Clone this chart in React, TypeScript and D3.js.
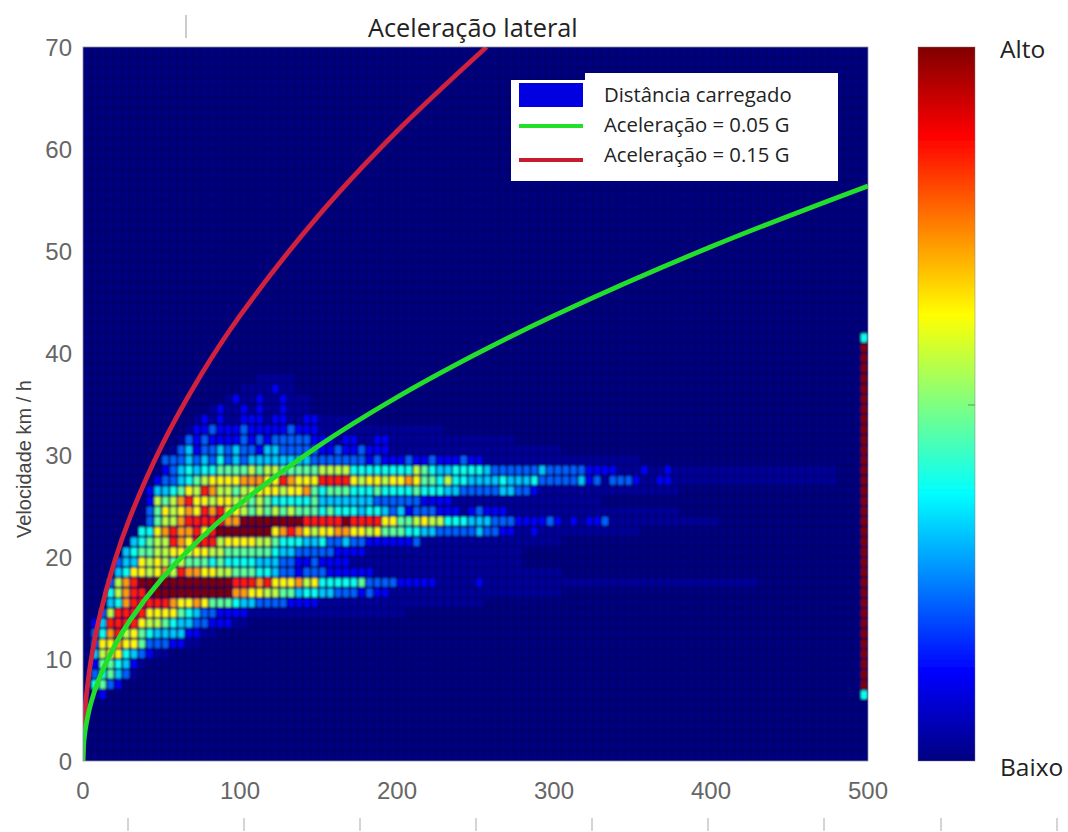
import React from "react";
import * as d3 from "d3";

// Heat-map levels: [speed row km/h, first column, levels]. Column width = 5 m of radius.
const heatRows: [number, number, string][] = [
  [6, 1, "12"],
  [7, 1, "5632"],
  [8, 1, "356431"],
  [9, 1, "2665421"],
  [10, 1, "4788543211"],
  [11, 1, "38898863332211"],
  [12, 1, "359a786544442211"],
  [13, 1, "24aaaa87765443322211"],
  [14, 2, "37aaaa8888654332222111"],
  [15, 3, "459aaaaa98898666544333322221111"],
  [16, 3, "579aabbbbbbbbbbb9988776645544333232211"],
  [17, 3, "379abbbbbbbbbbbbaaa9a8889785555563333222221111121111111"],
  [18, 4, "45887897a9988776665543323332222221111111111"],
  [19, 4, "34487876766656555544433223222211111111111111111"],
  [20, 5, "4566778878877666666544333332222111111111111111"],
  [21, 6, "45677a98aaa788887765554453343322222231111111"],
  [22, 7, "5589a99a8abbbbbbb89a98788998878666554433333433221121111111"],
  [23, 8, "36779aaaaa99bbbbbbbbaaaaabaaaa88667877555444333222232121223111"],
  [24, 8, "3687898a9a8876767676665655545543423332221232221111111"],
  [25, 8, "27679a887887767655555644444443333332222111111111"],
  [26, 8, "2445687a97767788878896566655565555655544333334433211"],
  [27, 9, "2334567888899988a9888aaaa87887889866575544445444533333423133321122111"],
  [28, 10, "23454556666767766666777755555555765445555433333343333322221112112111111"],
  [29, 10, "33343435343444444443333333232223223222322" + "1111111111"],
  [30, 11, "1342334343324433333223223222" + "11111111111111111111"],
  [31, 12, "1323222232323333322212211221" + "111111111111111"],
  [32, 13, "12232223222223222" + "1111111111"],
  [33, 14, "12121122212211221111"],
  [34, 16, "1211212112111"],
  [35, 18, "12112112111"],
  [36, 20, "1111211"],
  [37, 22, "11111"],
];

// Last column of the faint blue background haze, for speed rows 14, 15, ...
const faintStartRow = 14;
const faintEnd = [40, 50, 60, 85, 60, 55, 55, 60, 70, 80, 75, 65, 75, 95, 95, 70, 60, 50, 45, 35];

// Column at radius 500: dark red band with a cyan cell at each end
const edgeColumn = 99;
const edgeBandRows = [7, 40];
const edgeCapRows = [6, 41];
const edgeBandLevel = "b";
const edgeCapLevel = "5";

const levelChars = "0123456789ab";
const levelValues = [0, 0.025, 0.12, 0.22, 0.32, 0.39, 0.47, 0.56, 0.63, 0.72, 0.85, 1];

const jetStops = [0, 0.125, 0.375, 0.625, 0.875, 1];
const jetColors = ["#000080", "#0000ff", "#00ffff", "#ffff00", "#ff0000", "#800000"];

// Curves: radius (m) vs speed (km/h)
const greenRadius = [0, 0.5, 1, 2, 5, 10, 20, 30, 50, 75, 100, 150, 200, 250, 300, 400, 500];
const greenSpeed = [0, 1.78, 2.52, 3.56, 5.64, 7.97, 11.27, 13.81, 17.83, 21.83, 25.21, 30.88, 35.66, 39.86, 43.67, 50.42, 56.38];
const redRadius = [0, 0.5, 1, 2, 5, 10, 20, 30, 50, 75, 100, 150, 200, 257];
const redSpeed = [0, 3.09, 4.36, 6.17, 9.76, 13.8, 19.52, 23.91, 30.87, 37.81, 43.66, 53.47, 61.74, 70];

const xTicks = [0, 100, 200, 300, 400, 500];
const yTicks = [0, 10, 20, 30, 40, 50, 60, 70];
const legendLabels = ["Distância carregado", "Aceleração = 0.05 G", "Aceleração = 0.15 G"];
const bottomMarks = [128, 244, 360, 476, 592, 708, 824, 941, 1057];

const PLOT = { left: 83, right: 868, top: 47, bottom: 761 };
const tickFont = '"Liberation Sans", Arial, sans-serif';
const labelFont = '"Open Sans", sans-serif';

export default function App() {
  const x = d3.scaleLinear().domain([0, 500]).range([PLOT.left, PLOT.right]);
  const y = d3.scaleLinear().domain([0, 70]).range([PLOT.bottom, PLOT.top]);
  const jet = d3.scaleLinear<string>().domain(jetStops).range(jetColors).interpolate(d3.interpolateRgb);
  const colorOf = (ch: string) => jet(levelValues[levelChars.indexOf(ch)]);

  const grid = new Map<string, string>();
  heatRows.forEach(([row, start, levels]) => {
    const end = faintEnd[row - faintStartRow];
    if (end !== undefined) {
      for (let c = start; c <= end; c++) grid.set(`${row}:${c}`, "1");
    }
    [...levels].forEach((ch, i) => grid.set(`${row}:${start + i}`, ch));
  });
  for (let r = edgeBandRows[0]; r <= edgeBandRows[1]; r++) grid.set(`${r}:${edgeColumn}`, edgeBandLevel);
  edgeCapRows.forEach((r) => grid.set(`${r}:${edgeColumn}`, edgeCapLevel));

  const cells: React.ReactNode[] = [];
  for (let r = 0; r < 70; r++) {
    for (let c = 0; c < 100; c++) {
      const ch = grid.get(`${r}:${c}`) ?? "0";
      const bright = levelChars.indexOf(ch) >= 2;
      const inset = bright ? 0.9 : 0.45;
      const x0 = x(c * 5);
      const x1 = x((c + 1) * 5);
      const y1 = y(r);
      const y0 = y(r + 1);
      cells.push(
        <rect
          key={`${r}-${c}`}
          x={x0 + inset}
          y={y0 + inset}
          width={x1 - x0 - 2 * inset}
          height={y1 - y0 - 2 * inset}
          rx={bright ? 0.8 : 0}
          fill={colorOf(ch)}
        />
      );
    }
  }

  const line = d3.line<number>().curve(d3.curveCatmullRom.alpha(0.5));
  const greenPath = line(greenRadius.map((r, i) => [x(r), y(greenSpeed[i])]) as any);
  const redPath = line(redRadius.map((r, i) => [x(r), y(redSpeed[i])]) as any);

  return (
    <svg width={1068} height={832} style={{ position: "absolute", left: 0, top: 0, background: "#fff" }}>
      <defs>
        <filter id="soft" filterUnits="userSpaceOnUse" x={70} y={35} width={810} height={740}>
          <feGaussianBlur stdDeviation="0.85" />
        </filter>
        <filter id="softLine" filterUnits="userSpaceOnUse" x={0} y={0} width={1068} height={832}>
          <feGaussianBlur stdDeviation="0.55" />
        </filter>
        <clipPath id="plotClip">
          <rect x={PLOT.left} y={PLOT.top} width={PLOT.right - PLOT.left} height={PLOT.bottom - PLOT.top} />
        </clipPath>
        <linearGradient id="jetBar" x1="0" y1="1" x2="0" y2="0">
          {jetStops.map((s, i) => (
            <stop key={s} offset={s} stopColor={jetColors[i]} />
          ))}
        </linearGradient>
      </defs>

      <g clipPath="url(#plotClip)">
        <g filter="url(#soft)">
          <rect x={PLOT.left - 5} y={PLOT.top - 5} width={PLOT.right - PLOT.left + 10} height={PLOT.bottom - PLOT.top + 10} fill="#000050" />
          {cells}
        </g>
        <g filter="url(#softLine)" fill="none" strokeWidth={4.8}>
          <path d={redPath!} stroke="#d0203c" />
          <path d={greenPath!} stroke="#22e02c" />
        </g>
      </g>
      <rect x={PLOT.left} y={PLOT.top} width={PLOT.right - PLOT.left} height={PLOT.bottom - PLOT.top} fill="none" stroke="#8a8fb0" strokeWidth={0.8} />

      {/* legend */}
      <path d="M511 80H585V73H838V181H511Z" fill="#fff" />
      <rect x={519} y={83} width={64} height={24} fill="#0000e0" filter="url(#softLine)" />
      <line x1={519} x2={583} y1={126} y2={126} stroke="#22e02c" strokeWidth={4} filter="url(#softLine)" />
      <line x1={519} x2={583} y1={160} y2={160} stroke="#c81e2e" strokeWidth={4} filter="url(#softLine)" />
      {legendLabels.map((t, i) => (
        <text key={t} x={604} y={[102, 132, 162][i]} fontFamily={labelFont} fontSize={20.3} fill="#222">
          {t}
        </text>
      ))}

      {/* axis labels */}
      {xTicks.map((t) => (
        <text key={t} x={x(t)} y={799} textAnchor="middle" fontFamily={tickFont} fontSize={24} fill="#666">
          {t}
        </text>
      ))}
      {yTicks.map((t) => (
        <text key={t} x={72} y={y(t) + 9} textAnchor="end" fontFamily={tickFont} fontSize={24} fill="#666">
          {t}
        </text>
      ))}
      <text transform="translate(31,459) rotate(-90)" textAnchor="middle" fontFamily={tickFont} fontSize={20} fill="#444">
        Velocidade km / h
      </text>
      <text x={368} y={37} fontFamily={labelFont} fontSize={25.3} fill="#222">
        Aceleração lateral
      </text>

      {/* colour bar */}
      <rect x={918} y={47} width={57} height={714} fill="url(#jetBar)" filter="url(#softLine)" />
      <rect x={918} y={47} width={57} height={714} fill="none" stroke="#777" strokeOpacity={0.45} strokeWidth={1} />
      <line x1={968} x2={975} y1={405} y2={405} stroke="#5a9a5a" strokeWidth={1} />
      <text x={1000} y={58} fontFamily={labelFont} fontSize={24.5} fill="#222">
        Alto
      </text>
      <text x={1000} y={776} fontFamily={labelFont} fontSize={24.5} fill="#222">
        Baixo
      </text>

      {/* stray marks */}
      <line x1={186} x2={186} y1={15} y2={38} stroke="#999" strokeWidth={1} />
      {bottomMarks.map((m) => (
        <line key={m} x1={m} x2={m} y1={818} y2={831} stroke="#aaa" strokeWidth={1} />
      ))}
    </svg>
  );
}
